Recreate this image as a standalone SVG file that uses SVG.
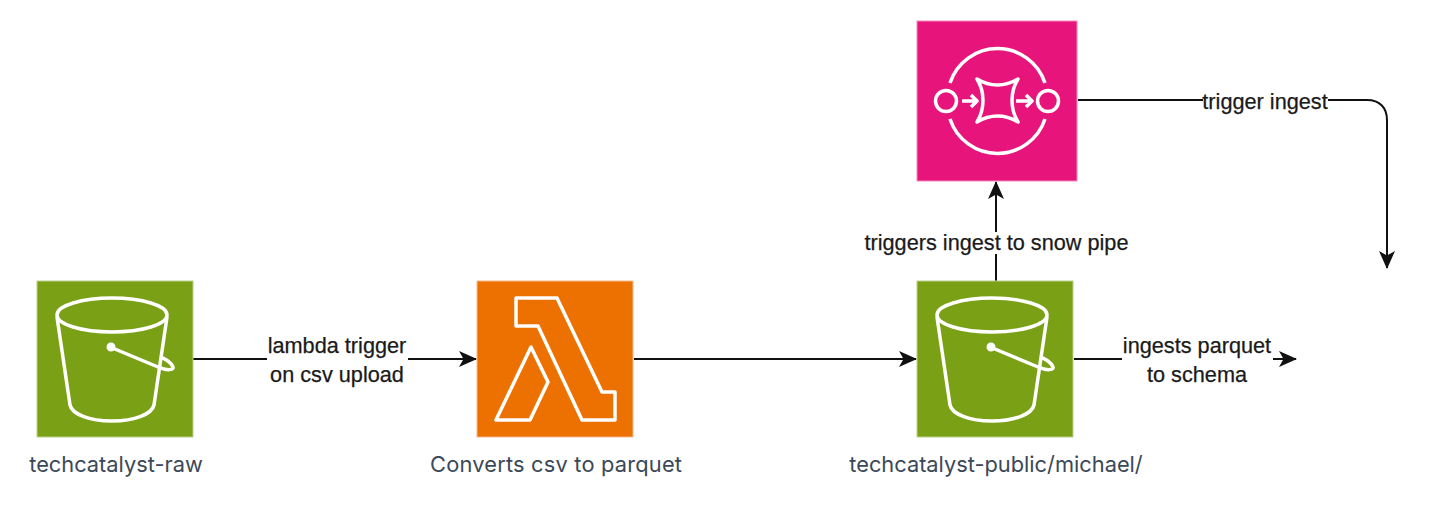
<svg xmlns="http://www.w3.org/2000/svg" width="1448" height="510" viewBox="0 0 1448 510">
<style>
.ico{fill:none;stroke:#fff;stroke-width:3.500;stroke-linejoin:round}
.c{fill:none;stroke:#111;stroke-width:2}
.l{font:21.7px "Liberation Sans",Arial,sans-serif;fill:#1a1a1a;stroke:#1a1a1a;stroke-width:.25;text-anchor:middle}
.n{font:21.8px "Inter","Liberation Sans",sans-serif;fill:#3b4858;text-anchor:middle}
.bk{fill:#fff}
</style>
<defs>
<marker id="a" viewBox="0 0 18 16" refX="17" refY="8" markerWidth="18" markerHeight="16" markerUnits="userSpaceOnUse" orient="auto"><path d="M0 0L18 8L0 16L4.500 8Z" fill="#111"/></marker>
<g id="bucket">
<ellipse cx="75" cy="34" rx="55" ry="17"/>
<path d="M20 36L33 124C35 133 52 140 75 140C98 140 115 133 117 124L130 36"/>
<path d="M73 66L121 86C130 90 137 89 136 86C134 81 127 77 123 76"/>
<circle cx="74" cy="66" r="3.500" fill="#fff" stroke-width="2"/>
</g>
</defs>
<g id="connectors">
<path class="c" marker-end="url(#a)" d="M193 359H476"/>
<path class="c" marker-end="url(#a)" d="M634 359H916"/>
<path class="c" marker-end="url(#a)" d="M1074 359H1296"/>
<path class="c" marker-end="url(#a)" d="M996 281V182"/>
<path class="c" marker-end="url(#a)" d="M1078 100H1367C1380 100 1387 108 1387 120V268"/>
</g>
<g id="raw"><rect x="37" y="281" width="156" height="156" fill="#7aa116" stroke="#bdd08a"/><use href="#bucket" transform="translate(37 281)" class="ico"/><text class="n" x="116" y="472">techcatalyst-raw</text></g>
<g id="lambda"><rect x="477" y="281" width="156" height="156" fill="#ed7100" stroke="#f7b98a"/><path class="ico" d="M516 298V326H538L582 420H615V392H602L557 298Z"/><path class="ico" d="M531 347L496 420H530L548 382Z"/><text class="n" x="556" y="472" textLength="252">Converts csv to parquet</text></g>
<g id="public"><rect x="917" y="281" width="156" height="156" fill="#7aa116" stroke="#bdd08a"/><use href="#bucket" transform="translate(917 281)" class="ico"/><text class="n" x="996" y="472">techcatalyst-public/michael/</text></g>
<g id="sqs"><rect x="917" y="21" width="160" height="160" fill="#e7157b" stroke="#f58ac0"/>
<g class="ico"><circle cx="946" cy="101" r="10.500"/><circle cx="1048" cy="101" r="10.500"/>
<path d="M950 83A50 50 0 0 1 1045 83M950 119A50 50 0 0 0 1045 119"/>
<path d="M977 79C990 87 1005 87 1018 79C1010 92 1010 109 1018 122C1005 114 990 114 977 122C985 109 985 92 977 79Z"/>
<path d="M962 101H977M971 95L977 101L971 107M1016 101H1032M1026 95L1032 101L1026 107"/></g></g>
<g id="labels">
<rect class="bk" x="267" y="336" width="141" height="48"/><text class="l" x="337" y="353">lambda trigger</text><text class="l" x="337" y="382">on csv upload</text>
<rect class="bk" x="1122" y="336" width="151" height="48"/><text class="l" x="1197" y="353">ingests parquet</text><text class="l" x="1197" y="382">to schema</text>
<rect class="bk" x="863" y="232" width="267" height="22"/><text class="l" x="996.500" y="250">triggers ingest to snow pipe</text>
<rect class="bk" x="1203" y="92" width="125" height="18"/><text class="l" x="1265" y="109">trigger ingest</text>
</g>
</svg>
